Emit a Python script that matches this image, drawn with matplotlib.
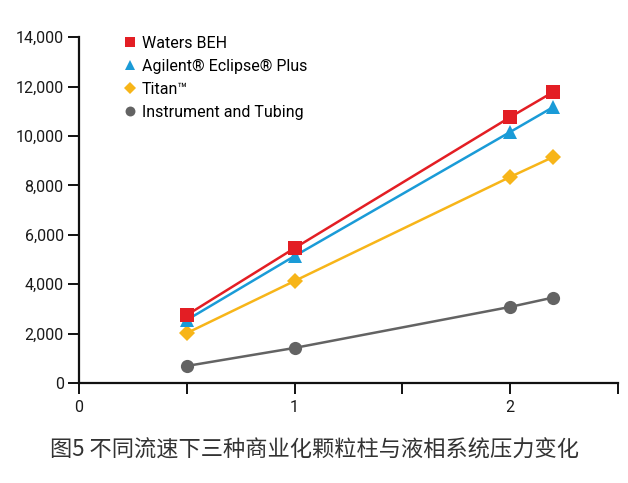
import matplotlib
matplotlib.use("Agg")
import matplotlib.pyplot as plt
from matplotlib.lines import Line2D
from matplotlib.ticker import FuncFormatter, MultipleLocator

plt.rcParams['font.family'] = ['Roboto', 'Noto Sans CJK SC', 'DejaVu Sans']

flow = [0.5, 1.0, 2.0, 2.2]
waters = [2750, 5460, 10760, 11780]
agilent = [2550, 5140, 10160, 11170]
titan = [2020, 4130, 8340, 9150]
instrument = [690, 1420, 3080, 3460]

names = ["Waters BEH", "Agilent® Eclipse® Plus", "Titan™", "Instrument and Tubing"]
colors = ["#e31e24", "#1a9bd7", "#f7b519", "#636363"]
markers = ["s", "^", "D", "o"]
msizes = [10, 9.5, 8, 9.5]
series = [waters, agilent, titan, instrument]
caption = "图5 不同流速下三种商业化颗粒柱与液相系统压力变化"

fig = plt.figure(figsize=(6.28, 4.83), dpi=100)
ax = fig.add_axes([0.1258, 0.207, 0.858, 0.716])

order = [3, 2, 1, 0]
for i in order:
    ax.plot(flow, series[i], color=colors[i], lw=1.8, marker=markers[i],
            ms=msizes[i], markeredgewidth=0, zorder=3 + (3 - i))

ax.set_xlim(0, 2.5)
ax.set_ylim(0, 14000)
ax.xaxis.set_major_locator(MultipleLocator(0.5))
ax.xaxis.set_major_formatter(FuncFormatter(lambda v, p: f"{int(v)}" if abs(v - round(v)) < 1e-6 else ""))
ax.yaxis.set_major_locator(MultipleLocator(2000))
ax.yaxis.set_major_formatter(FuncFormatter(lambda v, p: f"{int(v):,}"))

for s in ["top", "right"]:
    ax.spines[s].set_visible(False)
for s in ["left", "bottom"]:
    ax.spines[s].set_linewidth(1.6)
    ax.spines[s].set_color("#111111")
ax.tick_params(axis="both", direction="out", length=8, width=1.4, color="#111111",
               labelsize=11.5, labelcolor="#1a1a1a")
ax.tick_params(axis="x", pad=4)
ax.tick_params(axis="y", pad=3)

handles = [Line2D([], [], ls="none", marker=markers[i], color=colors[i],
                  ms=msizes[i] * 0.75, markeredgewidth=0) for i in range(4)]
ax.legend(handles, names, loc="upper left", bbox_to_anchor=(0.065, 1.022),
          frameon=False, fontsize=11.5, handletextpad=0.15, labelspacing=0.5,
          handlelength=1.2, borderaxespad=0)

fig.text(0.5, 0.068, caption, ha="center", va="center", fontsize=16,
         color="#333333", family=['Noto Sans CJK SC', 'DejaVu Sans'])

fig.savefig("out.png", dpi=100)
